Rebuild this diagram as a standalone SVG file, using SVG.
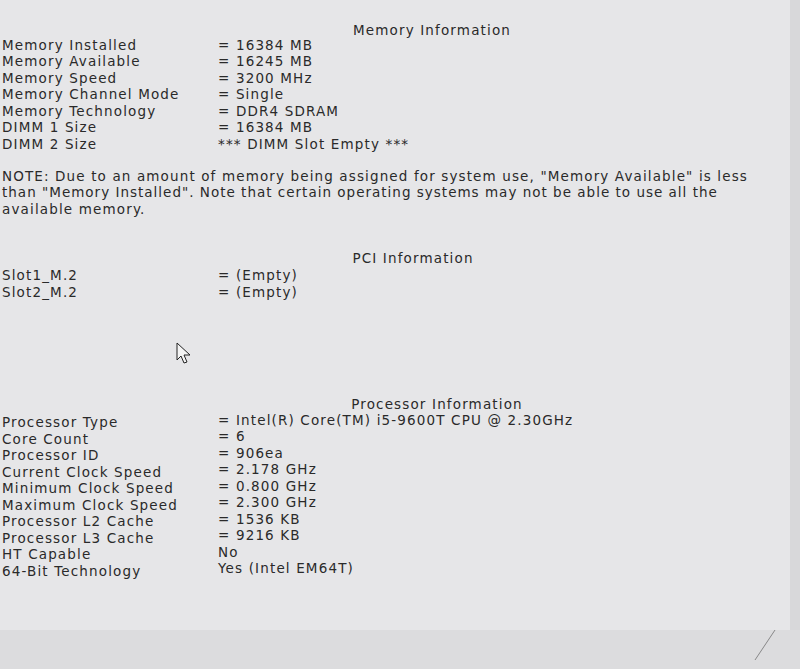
<svg xmlns="http://www.w3.org/2000/svg" width="800" height="669" viewBox="0 0 800 669">
<style>
text{font-family:"DejaVu Sans",Verdana,sans-serif;font-size:13.5px;fill:#2a2a2a;letter-spacing:1.15px}
.h{text-anchor:middle}
</style>
<rect width="800" height="669" fill="#e6e6e8"/>
<rect x="790" y="0" width="10" height="669" fill="#d8d8da"/>
<rect x="0" y="630" width="800" height="39" fill="#dcdcde"/>
<line x1="755" y1="660" x2="775" y2="630" stroke="#888" stroke-width="1"/>
<text class="h" x="432" y="35">Memory Information</text>
<g>
<text x="2" y="50">Memory Installed</text><text x="218" y="50">= 16384 MB</text>
<text x="2" y="66">Memory Available</text><text x="218" y="66">= 16245 MB</text>
<text x="2" y="83">Memory Speed</text><text x="218" y="83">= 3200 MHz</text>
<text x="2" y="99">Memory Channel Mode</text><text x="218" y="99">= Single</text>
<text x="2" y="116">Memory Technology</text><text x="218" y="116">= DDR4 SDRAM</text>
<text x="2" y="132">DIMM 1 Size</text><text x="218" y="132">= 16384 MB</text>
<text x="2" y="149">DIMM 2 Size</text><text x="218" y="149">*** DIMM Slot Empty ***</text>
</g>
<text x="2" y="181" textLength="746">NOTE: Due to an amount of memory being assigned for system use, "Memory Available" is less</text>
<text x="2" y="197" textLength="716">than "Memory Installed". Note that certain operating systems may not be able to use all the</text>
<text x="2" y="214">available memory.</text>
<text class="h" x="413" y="263">PCI Information</text>
<text x="2" y="280">Slot1_M.2</text><text x="218" y="280">= (Empty)</text>
<text x="2" y="297">Slot2_M.2</text><text x="218" y="297">= (Empty)</text>
<path d="M177 343 L177 360 L181 356 L184 363 L187 362 L184 355 L190 355 Z" fill="#f4f4f4" stroke="#222" stroke-width="1"/>
<text class="h" x="437" y="409">Processor Information</text>
<g>
<text x="2" y="427">Processor Type</text><text x="218" y="425">= Intel(R) Core(TM) i5-9600T CPU @ 2.30GHz</text>
<text x="2" y="444">Core Count</text><text x="218" y="441">= 6</text>
<text x="2" y="460">Processor ID</text><text x="218" y="458">= 906ea</text>
<text x="2" y="477">Current Clock Speed</text><text x="218" y="474">= 2.178 GHz</text>
<text x="2" y="493">Minimum Clock Speed</text><text x="218" y="491">= 0.800 GHz</text>
<text x="2" y="510">Maximum Clock Speed</text><text x="218" y="507">= 2.300 GHz</text>
<text x="2" y="526">Processor L2 Cache</text><text x="218" y="524">= 1536 KB</text>
<text x="2" y="543">Processor L3 Cache</text><text x="218" y="540">= 9216 KB</text>
<text x="2" y="559">HT Capable</text><text x="218" y="557">No</text>
<text x="2" y="576">64-Bit Technology</text><text x="218" y="573">Yes (Intel EM64T)</text>
</g>
</svg>
